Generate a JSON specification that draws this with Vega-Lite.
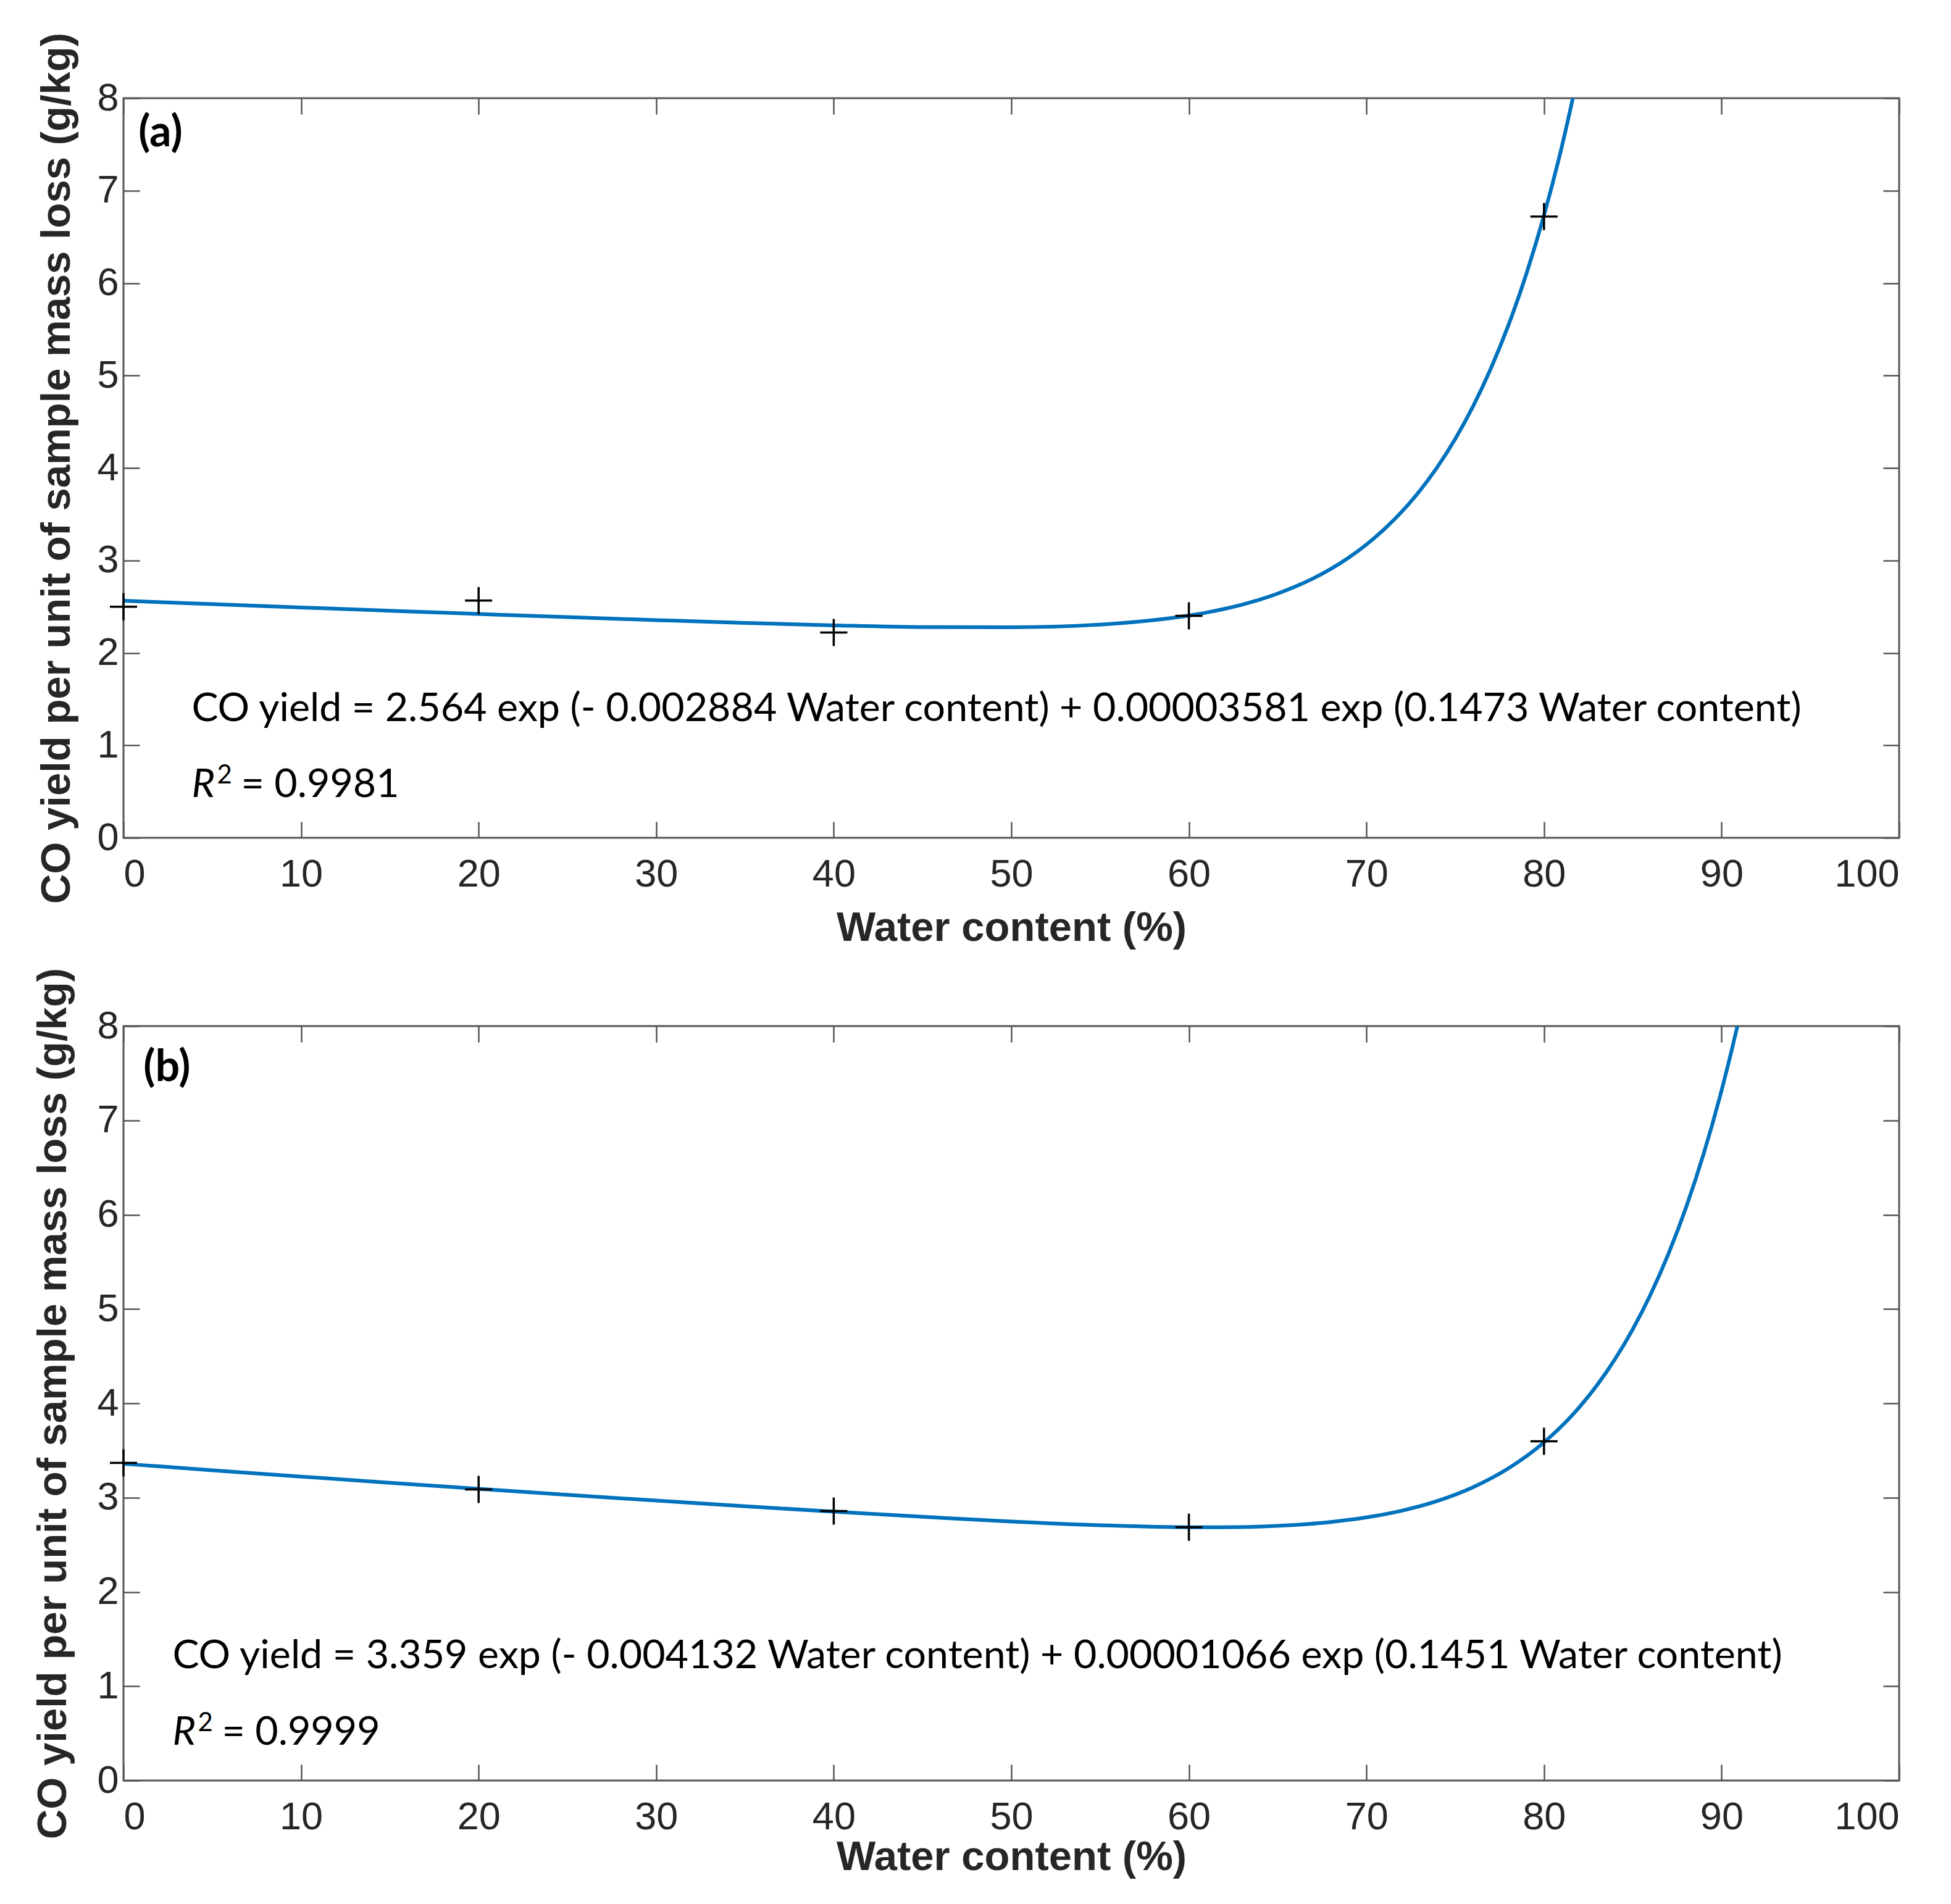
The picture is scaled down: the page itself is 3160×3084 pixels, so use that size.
{
  "$schema": "https://vega.github.io/schema/vega-lite/v6.json",
  "description": "CO yield per unit of sample mass loss vs water content, with two-term exponential fits, panels (a) and (b).",
  "background": "white",
  "padding": {"left": 51, "top": 50, "right": 0, "bottom": 0},
  "bounds": "flush",
  "spacing": 305,
  "datasets": {
    "fitA": [
      {"water": 0, "co": 2.564}, {"water": 5, "co": 2.5274}, {"water": 10, "co": 2.4912},
      {"water": 15, "co": 2.4557}, {"water": 20, "co": 2.421}, {"water": 25, "co": 2.3871},
      {"water": 30, "co": 2.3545}, {"water": 35, "co": 2.324}, {"water": 40, "co": 2.2976},
      {"water": 45, "co": 2.279}, {"water": 50, "co": 2.2763}, {"water": 55, "co": 2.3061},
      {"water": 60, "co": 2.4035}, {"water": 61, "co": 2.4365}, {"water": 62, "co": 2.4757},
      {"water": 63, "co": 2.5219}, {"water": 64, "co": 2.5768}, {"water": 65, "co": 2.6414},
      {"water": 66, "co": 2.7171}, {"water": 67, "co": 2.8057}, {"water": 68, "co": 2.9095},
      {"water": 69, "co": 3.0306}, {"water": 70, "co": 3.1721}, {"water": 71, "co": 3.3369},
      {"water": 72, "co": 3.529}, {"water": 73, "co": 3.7524}, {"water": 74, "co": 4.0123},
      {"water": 75, "co": 4.3145}, {"water": 76, "co": 4.6654}, {"water": 77, "co": 5.0733},
      {"water": 78, "co": 5.5464}, {"water": 79, "co": 6.0953}, {"water": 80, "co": 6.7333},
      {"water": 81, "co": 7.473}, {"water": 82, "co": 8.33}
    ],
    "obsA": [
      {"water": 0, "co": 2.5}, {"water": 20, "co": 2.566}, {"water": 40, "co": 2.22},
      {"water": 60, "co": 2.4}, {"water": 80, "co": 6.72}
    ],
    "fitB": [
      {"water": 0, "co": 3.359}, {"water": 5, "co": 3.2903}, {"water": 10, "co": 3.2231},
      {"water": 15, "co": 3.1572}, {"water": 20, "co": 3.0928}, {"water": 25, "co": 3.0298},
      {"water": 30, "co": 2.9682}, {"water": 35, "co": 2.9084}, {"water": 40, "co": 2.8508},
      {"water": 45, "co": 2.7964}, {"water": 50, "co": 2.7471}, {"water": 55, "co": 2.7073},
      {"water": 60, "co": 2.6858}, {"water": 62, "co": 2.6859}, {"water": 65, "co": 2.7008},
      {"water": 68, "co": 2.7417}, {"water": 70, "co": 2.79}, {"water": 72, "co": 2.8618},
      {"water": 74, "co": 2.965}, {"water": 76, "co": 3.1099}, {"water": 78, "co": 3.3106},
      {"water": 80, "co": 3.5858}, {"water": 82, "co": 3.9607}, {"water": 83, "co": 4.1955},
      {"water": 84, "co": 4.4686}, {"water": 85, "co": 4.786}, {"water": 86, "co": 5.1541},
      {"water": 87, "co": 5.582}, {"water": 88, "co": 6.0773}, {"water": 89, "co": 6.652},
      {"water": 90, "co": 7.318}, {"water": 91, "co": 8.09}, {"water": 92, "co": 8.984}
    ],
    "obsB": [
      {"water": 0, "co": 3.368}, {"water": 20, "co": 3.087}, {"water": 40, "co": 2.858},
      {"water": 60, "co": 2.686}, {"water": 80, "co": 3.597}
    ],
    "eqA": [{"water": 3.84, "co": 1.26, "label": "CO yield = 2.564 exp (- 0.002884 Water content) + 0.00003581 exp (0.1473 Water content)"}],
    "rA": [{"water": 3.84, "co": 0.44, "label": "R", "sup": "2", "rest": "= 0.9981"}],
    "tagA": [{"water": 0.84, "co": 7.48, "label": "(a)"}],
    "eqB": [{"water": 2.76, "co": 1.19, "label": "CO yield = 3.359 exp (- 0.004132 Water content) + 0.00001066 exp (0.1451 Water content)"}],
    "rB": [{"water": 2.76, "co": 0.38, "label": "R", "sup": "2", "rest": "= 0.9999"}],
    "tagB": [{"water": 1.12, "co": 7.42, "label": "(b)"}]
  },
  "vconcat": [
    {
      "width": 2876,
      "height": 1198,
      "layer": [
        {
          "data": {"name": "fitA"},
          "mark": {"type": "line", "color": "#0072BD", "strokeWidth": 6, "interpolate": "monotone", "clip": true},
          "encoding": {
            "x": {"field": "water", "type": "quantitative", "scale": {"domain": [0, 100], "nice": false},
              "axis": {"orient": "bottom", "values": [0, 10, 20, 30, 40, 50, 60, 70, 80, 90, 100], "title": "Water content (%)", "labelPadding": 54, "titlePadding": 22}},
            "y": {"field": "co", "type": "quantitative", "scale": {"domain": [0, 8], "nice": false},
              "axis": {"orient": "left", "values": [0, 1, 2, 3, 4, 5, 6, 7, 8], "title": "CO yield per unit of sample mass loss (g/kg)", "labelPadding": 34, "titlePadding": 30}}
          }
        },
        {
          "data": {"name": "obsA"},
          "mark": {"type": "point", "shape": "M-1,0L1,0M0,-1L0,1", "filled": false, "stroke": "black", "strokeWidth": 3.5, "size": 1936, "opacity": 1},
          "encoding": {
            "x": {"field": "water", "type": "quantitative", "axis": {"orient": "top", "values": [0, 10, 20, 30, 40, 50, 60, 70, 80, 90, 100], "labels": false, "title": null}},
            "y": {"field": "co", "type": "quantitative", "axis": {"orient": "right", "values": [0, 1, 2, 3, 4, 5, 6, 7, 8], "labels": false, "title": null}}
          }
        },
        {
          "data": {"name": "eqA"},
          "mark": {"type": "text", "font": "Lato", "fontSize": 64.5, "align": "left", "baseline": "alphabetic", "color": "black"},
          "encoding": {
            "x": {"field": "water", "type": "quantitative", "axis": null},
            "y": {"field": "co", "type": "quantitative", "axis": null},
            "text": {"field": "label"}
          }
        },
        {
          "data": {"name": "rA"},
          "mark": {"type": "text", "font": "Lato", "fontSize": 64.5, "fontStyle": "italic", "align": "left", "baseline": "alphabetic", "color": "black"},
          "encoding": {
            "x": {"field": "water", "type": "quantitative", "axis": null},
            "y": {"field": "co", "type": "quantitative", "axis": null},
            "text": {"field": "label"}
          }
        },
        {
          "data": {"name": "rA"},
          "mark": {"type": "text", "font": "Lato", "fontSize": 42, "align": "left", "baseline": "alphabetic", "color": "black", "dx": 41, "dy": -22},
          "encoding": {
            "x": {"field": "water", "type": "quantitative", "axis": null},
            "y": {"field": "co", "type": "quantitative", "axis": null},
            "text": {"field": "sup"}
          }
        },
        {
          "data": {"name": "rA"},
          "mark": {"type": "text", "font": "Lato", "fontSize": 64.5, "align": "left", "baseline": "alphabetic", "color": "black", "dx": 80},
          "encoding": {
            "x": {"field": "water", "type": "quantitative", "axis": null},
            "y": {"field": "co", "type": "quantitative", "axis": null},
            "text": {"field": "rest"}
          }
        },
        {
          "data": {"name": "tagA"},
          "mark": {"type": "text", "font": "Lato", "fontSize": 70, "fontWeight": "bold", "align": "left", "baseline": "alphabetic", "color": "black"},
          "encoding": {
            "x": {"field": "water", "type": "quantitative", "axis": null},
            "y": {"field": "co", "type": "quantitative", "axis": null},
            "text": {"field": "label"}
          }
        }
      ],
      "resolve": {"axis": {"x": "independent", "y": "independent"}}
    },
    {
      "width": 2876,
      "height": 1222,
      "layer": [
        {
          "data": {"name": "fitB"},
          "mark": {"type": "line", "color": "#0072BD", "strokeWidth": 6, "interpolate": "monotone", "clip": true},
          "encoding": {
            "x": {"field": "water", "type": "quantitative", "scale": {"domain": [0, 100], "nice": false},
              "axis": {"orient": "bottom", "values": [0, 10, 20, 30, 40, 50, 60, 70, 80, 90, 100], "title": "Water content (%)", "labelPadding": 54, "titlePadding": 0}},
            "y": {"field": "co", "type": "quantitative", "scale": {"domain": [0, 8], "nice": false},
              "axis": {"orient": "left", "values": [0, 1, 2, 3, 4, 5, 6, 7, 8], "title": "CO yield per unit of sample mass loss (g/kg)", "labelPadding": 34, "titlePadding": 36}}
          }
        },
        {
          "data": {"name": "obsB"},
          "mark": {"type": "point", "shape": "M-1,0L1,0M0,-1L0,1", "filled": false, "stroke": "black", "strokeWidth": 3.5, "size": 1936, "opacity": 1},
          "encoding": {
            "x": {"field": "water", "type": "quantitative", "axis": {"orient": "top", "values": [0, 10, 20, 30, 40, 50, 60, 70, 80, 90, 100], "labels": false, "title": null}},
            "y": {"field": "co", "type": "quantitative", "axis": {"orient": "right", "values": [0, 1, 2, 3, 4, 5, 6, 7, 8], "labels": false, "title": null}}
          }
        },
        {
          "data": {"name": "eqB"},
          "mark": {"type": "text", "font": "Lato", "fontSize": 64.5, "align": "left", "baseline": "alphabetic", "color": "black"},
          "encoding": {
            "x": {"field": "water", "type": "quantitative", "axis": null},
            "y": {"field": "co", "type": "quantitative", "axis": null},
            "text": {"field": "label"}
          }
        },
        {
          "data": {"name": "rB"},
          "mark": {"type": "text", "font": "Lato", "fontSize": 64.5, "fontStyle": "italic", "align": "left", "baseline": "alphabetic", "color": "black"},
          "encoding": {
            "x": {"field": "water", "type": "quantitative", "axis": null},
            "y": {"field": "co", "type": "quantitative", "axis": null},
            "text": {"field": "label"}
          }
        },
        {
          "data": {"name": "rB"},
          "mark": {"type": "text", "font": "Lato", "fontSize": 42, "align": "left", "baseline": "alphabetic", "color": "black", "dx": 41, "dy": -22},
          "encoding": {
            "x": {"field": "water", "type": "quantitative", "axis": null},
            "y": {"field": "co", "type": "quantitative", "axis": null},
            "text": {"field": "sup"}
          }
        },
        {
          "data": {"name": "rB"},
          "mark": {"type": "text", "font": "Lato", "fontSize": 64.5, "align": "left", "baseline": "alphabetic", "color": "black", "dx": 80},
          "encoding": {
            "x": {"field": "water", "type": "quantitative", "axis": null},
            "y": {"field": "co", "type": "quantitative", "axis": null},
            "text": {"field": "rest"}
          }
        },
        {
          "data": {"name": "tagB"},
          "mark": {"type": "text", "font": "Lato", "fontSize": 70, "fontWeight": "bold", "align": "left", "baseline": "alphabetic", "color": "black"},
          "encoding": {
            "x": {"field": "water", "type": "quantitative", "axis": null},
            "y": {"field": "co", "type": "quantitative", "axis": null},
            "text": {"field": "label"}
          }
        }
      ],
      "resolve": {"axis": {"x": "independent", "y": "independent"}}
    }
  ],
  "config": {
    "view": {"stroke": "#555555", "strokeWidth": 3},
    "font": "Liberation Sans",
    "axis": {
      "domain": false,
      "grid": false,
      "tickColor": "#555555",
      "tickWidth": 2.5,
      "tickSize": -26,
      "labelFont": "Liberation Sans",
      "labelFontSize": 63,
      "labelColor": "#262626",
      "titleFont": "Liberation Sans",
      "titleFontSize": 67,
      "titleFontWeight": "bold",
      "titleColor": "#262626"
    }
  }
}
